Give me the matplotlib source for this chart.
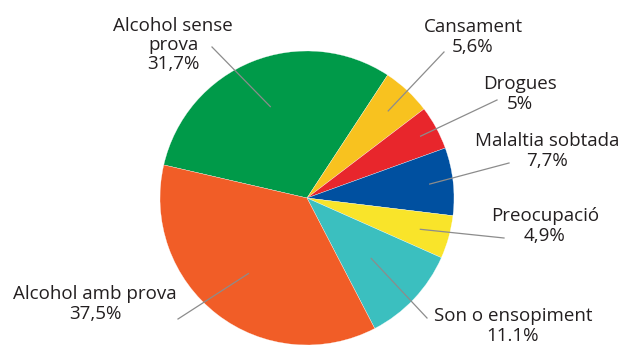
import numpy as np
import matplotlib.pyplot as plt

labels = ['Alcohol sense\nprova', 'Cansament', 'Drogues', 'Malaltia sobtada',
          'Preocupació', 'Son o ensopiment', 'Alcohol amb prova']
values = [31.7, 5.6, 5.0, 7.7, 4.9, 11.1, 37.5]
pct_text = ['31,7%', '5,6%', '5%', '7,7%', '4,9%', '11.1%', '37,5%']
colors = ['#009a49', '#f8c21f', '#e8262c', '#0050a0', '#f9e42a', '#3bbfbf', '#f15d27']

# label anchor (pixels, y down), leader start, leader radius fraction
label_pos = [(173, 45), (473, 37), (520, 94), (547, 151), (545, 226), (513, 326), (95, 304)]
leader_out = [(212, 47), (444, 52), (497, 100), (509, 163), (504, 238), (427, 318), (178, 319)]
leader_r = [0.67, 0.81, 0.88, 0.84, 0.80, 0.60, 0.65]

W, H = 622, 345
cx, cy, R = 307, 198, 147

fig = plt.figure(figsize=(W / 100, H / 100), dpi=100)
ax = fig.add_axes([0, 0, 1, 1])

wedges, _ = ax.pie(values, colors=colors, startangle=167, counterclock=False,
                   center=(cx, H - cy), radius=R, frame=True,
                   wedgeprops=dict(linewidth=0.2, edgecolor='white'))
ax.set_xlim(0, W)
ax.set_ylim(0, H)
ax.set_aspect('equal')
ax.axis('off')

for w, lab, pct, (lx, ly), (ox, oy), fr in zip(wedges, labels, pct_text, label_pos,
                                                 leader_out, leader_r):
    mid = np.deg2rad((w.theta1 + w.theta2) / 2)
    ix = cx + fr * R * np.cos(mid)
    iy = (H - cy) + fr * R * np.sin(mid)
    ax.plot([ox, ix], [H - oy, iy], color='#8c8c8c', lw=0.9, zorder=5)
    ax.text(lx, H - ly, lab + '\n' + pct, ha='center', va='center',
            fontsize=13.5, color='#231f20', family='Open Sans', linespacing=1.1)

fig.savefig('out.png', dpi=100)
